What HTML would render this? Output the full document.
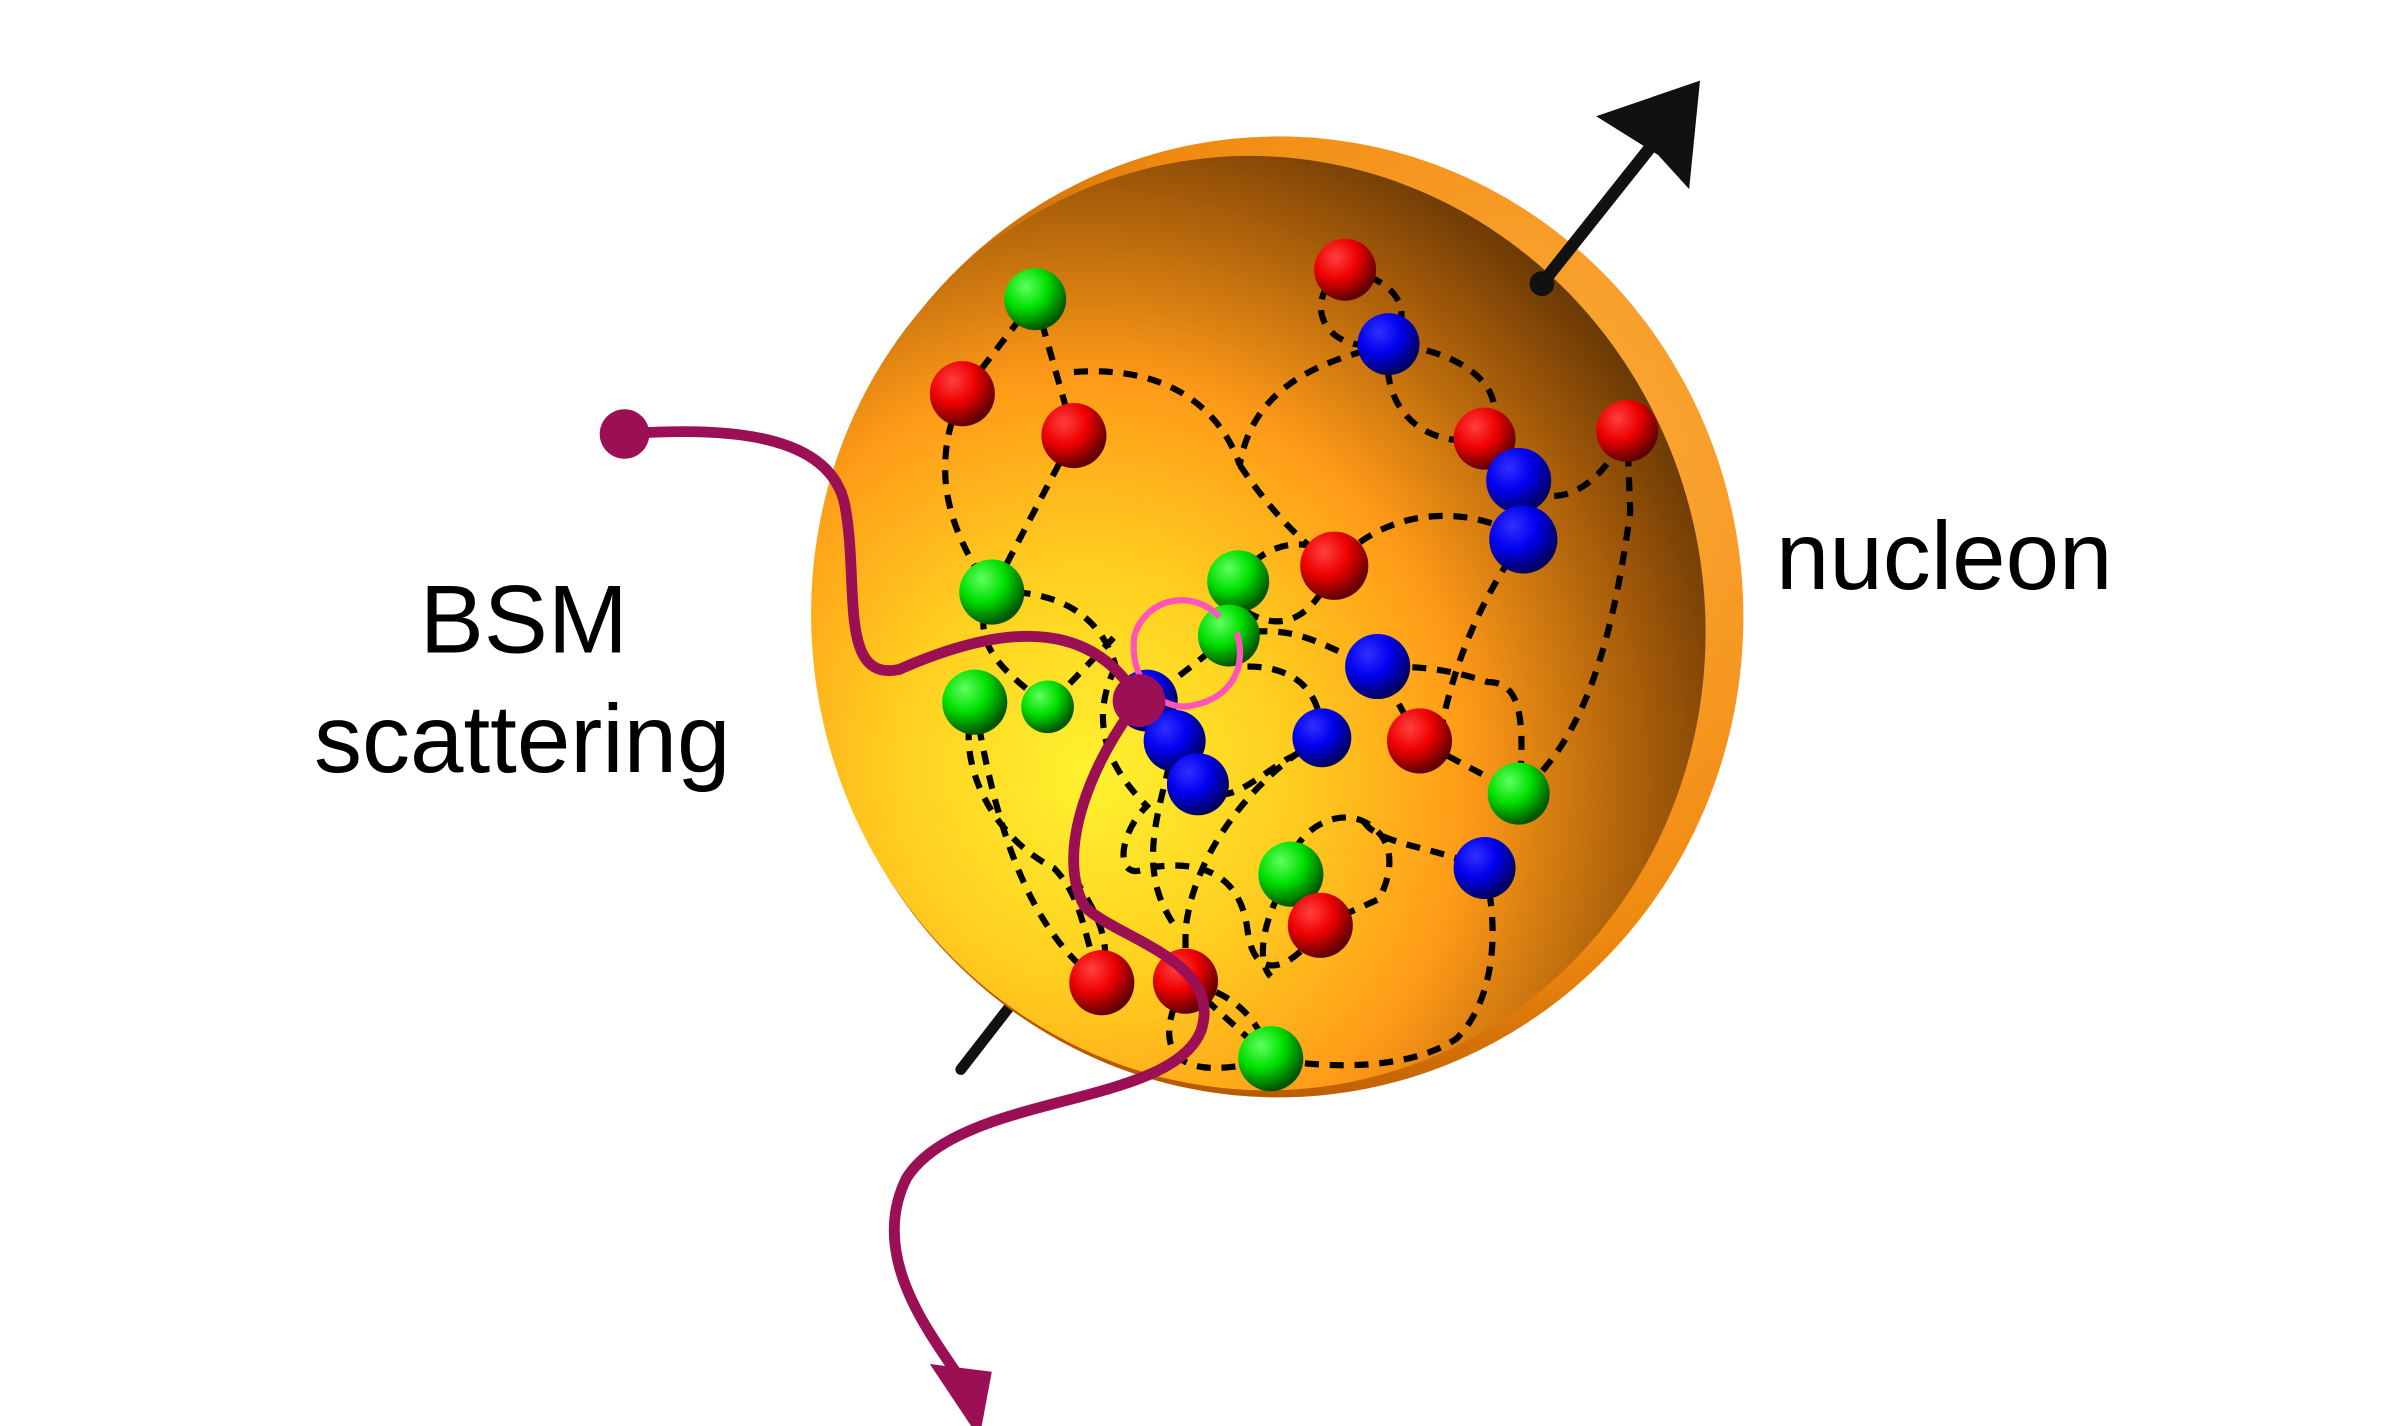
<!DOCTYPE html>
<html><head><meta charset="utf-8"><style>
html,body{margin:0;padding:0;background:#fff;}
svg{display:block;}
</style></head><body>
<svg width="2402" height="1426" viewBox="0 0 1550 920" preserveAspectRatio="none" xmlns="http://www.w3.org/2000/svg">
<defs>
<radialGradient id="rim" cx="0.75" cy="0.35" r="0.7">
<stop offset="0" stop-color="#ffb040"/><stop offset="0.7" stop-color="#f08a10"/><stop offset="1" stop-color="#b85a00"/>
</radialGradient>
<radialGradient id="face" cx="0.28" cy="0.62" r="0.85" fx="0.28" fy="0.62">
<stop offset="0" stop-color="#fff230"/><stop offset="0.25" stop-color="#ffd020"/><stop offset="0.5" stop-color="#ff9a18"/><stop offset="0.75" stop-color="#a05808"/><stop offset="1" stop-color="#3a1e04"/>
</radialGradient>
<radialGradient id="gR" cx="0.35" cy="0.3" r="0.7"><stop offset="0" stop-color="#ff4040"/><stop offset="0.5" stop-color="#ee0000"/><stop offset="1" stop-color="#600000"/></radialGradient>
<radialGradient id="gG" cx="0.35" cy="0.3" r="0.7"><stop offset="0" stop-color="#60ff60"/><stop offset="0.5" stop-color="#00e000"/><stop offset="1" stop-color="#005500"/></radialGradient>
<radialGradient id="gB" cx="0.35" cy="0.3" r="0.7"><stop offset="0" stop-color="#3030ff"/><stop offset="0.5" stop-color="#0000ee"/><stop offset="1" stop-color="#000060"/></radialGradient>
</defs>

<g stroke="#111" stroke-width="7" fill="none" stroke-linecap="round">
<line x1="620" y1="690" x2="665" y2="632"/>
</g>

<ellipse cx="825" cy="398" rx="300" ry="310" fill="url(#rim)"/>
<ellipse cx="812" cy="402" rx="288" ry="302" transform="rotate(-12 812 402)" fill="url(#face)"/>

<g stroke="#000" stroke-width="4" fill="none" stroke-dasharray="9 7">
<path d="M668,193 L693,281 L640,382 M668,193 L621,254 C600,300 610,340 640,382"/>
<path d="M693,240 C760,235 790,270 800,300 C810,240 870,230 896,222"/>
<path d="M868,174 C840,190 850,230 896,222 C940,225 980,250 958,283 C920,290 890,265 896,222 M868,174 C900,180 915,200 896,222"/>
<path d="M800,300 C820,330 840,350 861,365 C900,320 960,330 983,348 L980,310 C1000,330 1030,320 1050,278 L1052,330 C1040,420 1020,480 980,512"/>
<path d="M799,375 C820,340 860,350 861,365 C850,395 830,410 805,395"/>
<path d="M640,382 C680,380 710,395 720,430 M640,382 C620,420 660,440 676,456 L720,410"/>
<path d="M793,410 C770,430 755,440 740,452 M793,410 C840,400 855,420 889,430 L916,478 L980,512 C985,460 980,440 960,440 C930,430 910,430 889,430"/>
<path d="M983,348 C960,380 940,420 930,470 C925,490 920,500 916,478"/>
<path d="M629,453 C615,490 640,540 680,560 C700,580 700,610 711,634 M629,453 C640,520 660,600 711,634"/>
<path d="M720,430 C700,470 720,500 740,520 C720,540 720,570 740,560 C770,555 800,560 805,600 C810,640 840,620 852,597"/>
<path d="M773,506 C790,520 800,510 830,490 C850,480 853,476 853,476 M805,430 C840,430 853,450 853,476"/>
<path d="M853,476 C810,500 770,550 765,600 L765,633 L820,683 C760,700 740,680 765,633 C790,640 810,650 820,683"/>
<path d="M833,564 C830,540 860,520 880,530 C900,540 900,560 890,580 L852,597 M880,530 C890,545 920,545 958,560"/>
<path d="M958,560 C970,610 960,650 940,670 C910,690 860,690 820,683"/>
<path d="M758,478 C750,520 730,560 760,600 M711,634 C720,600 700,580 690,560"/>
<path d="M833,564 C815,590 810,620 820,630"/>
</g>

<circle cx="1050" cy="278" r="20" fill="url(#gR)"/>
<g>
<circle cx="668" cy="193" r="20" fill="url(#gG)"/>
<circle cx="868" cy="174" r="20" fill="url(#gR)"/>
<circle cx="896" cy="222" r="20" fill="url(#gB)"/>
<circle cx="621" cy="254" r="21" fill="url(#gR)"/>
<circle cx="693" cy="281" r="21" fill="url(#gR)"/>
<circle cx="958" cy="283" r="20" fill="url(#gR)"/>
<circle cx="980" cy="310" r="21" fill="url(#gB)"/>
<circle cx="983" cy="348" r="22" fill="url(#gB)"/>
<circle cx="861" cy="365" r="22" fill="url(#gR)"/>
<circle cx="640" cy="382" r="21" fill="url(#gG)"/>
<circle cx="799" cy="375" r="20" fill="url(#gG)"/>
<circle cx="793" cy="410" r="20" fill="url(#gG)"/>
<circle cx="889" cy="430" r="21" fill="url(#gB)"/>
<circle cx="629" cy="453" r="21" fill="url(#gG)"/>
<circle cx="676" cy="456" r="17" fill="url(#gG)"/>
<circle cx="740" cy="452" r="20" fill="url(#gB)"/>
<circle cx="758" cy="478" r="20" fill="url(#gB)"/>
<circle cx="773" cy="506" r="20" fill="url(#gB)"/>
<circle cx="853" cy="476" r="19" fill="url(#gB)"/>
<circle cx="916" cy="478" r="21" fill="url(#gR)"/>
<circle cx="980" cy="512" r="20" fill="url(#gG)"/>
<circle cx="958" cy="560" r="20" fill="url(#gB)"/>
<circle cx="833" cy="564" r="21" fill="url(#gG)"/>
<circle cx="852" cy="597" r="21" fill="url(#gR)"/>
<circle cx="711" cy="634" r="21" fill="url(#gR)"/>
<circle cx="765" cy="633" r="21" fill="url(#gR)"/>
<circle cx="820" cy="683" r="21" fill="url(#gG)"/>
</g>

<path d="M787,398 C770,380 740,385 732,410 C728,440 750,460 770,455 C795,450 805,430 798,408" stroke="#ff55bb" stroke-width="4" fill="none"/>

<g stroke="#9b0f55" stroke-width="7" fill="none" stroke-linecap="round">
<path d="M403,280 C470,275 535,280 545,325 C555,375 540,440 580,432 C630,410 700,390 735,452"/>
<path d="M735,452 C705,490 680,550 700,585 C720,605 790,620 775,665 C755,715 620,705 585,760 C560,810 600,860 620,890"/>
</g>
<circle cx="403" cy="280" r="16" fill="#9b0f55"/>
<circle cx="735" cy="452" r="17" fill="#9b0f55"/>
<polygon points="600,880 640,885 632,928" fill="#9b0f55"/>

<g stroke="#111" stroke-width="8" fill="none" stroke-linecap="round">
<line x1="995" y1="183" x2="1065" y2="95"/>
</g>
<circle cx="995" cy="183" r="8" fill="#111"/>
<polygon points="1030,75 1097,52 1090,122 1070,100" fill="#111"/>

<g font-family="Liberation Sans, sans-serif" fill="#000" font-size="62">
<text x="338" y="421" text-anchor="middle">BSM</text>
<text x="337" y="498" text-anchor="middle">scattering</text>
<text x="1146" y="380">nucleon</text>
</g>
</svg>
</body></html>
